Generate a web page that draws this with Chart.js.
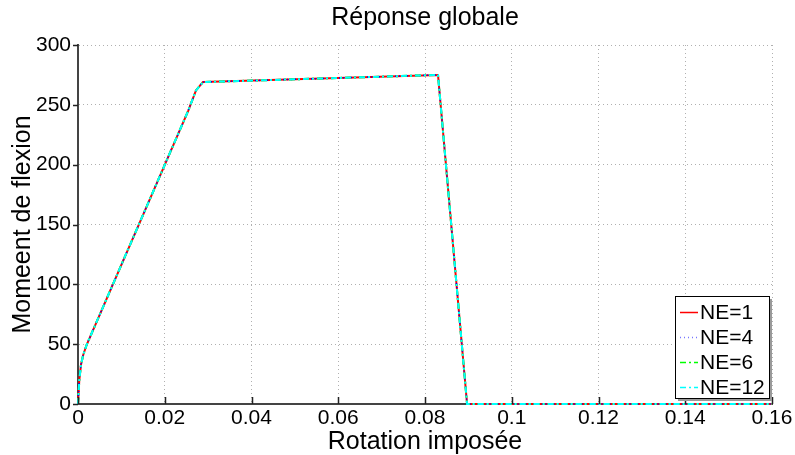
<!DOCTYPE html>
<html>
<head>
<meta charset="utf-8">
<script src="https://cdn.jsdelivr.net/npm/chart.js@4/dist/chart.umd.min.js"></script>
<style>
  html, body { margin: 0; padding: 0; background: #ffffff; }
  canvas { display: block; }
</style>
</head>
<body>
<canvas id="c" width="795" height="455"></canvas>
<script>
// ---- Data ----
const rotation   = [0, 0.0003, 0.0007, 0.0012, 0.002, 0.0254, 0.0272, 0.0288, 0.0830, 0.0897, 0.16];
const momentNE1  = [0, 20, 33, 41, 49.5, 245, 262, 269, 275, 0, 0];
const momentNE4  = [0, 20, 33, 41, 49.5, 245, 262, 269, 275, 0, 0];
const momentNE6  = [0, 20, 33, 41, 49.5, 245, 262, 269, 275, 0, 0];
const momentNE12 = [0, 20, 33, 41, 49.5, 245, 262, 269, 275, 0, 0];
const seriesLabels = ['NE=1', 'NE=4', 'NE=6', 'NE=12'];
const xTickLabels = ['0', '0.02', '0.04', '0.06', '0.08', '0.1', '0.12', '0.14', '0.16'];
const yTickLabels = ['0', '50', '100', '150', '200', '250', '300'];
const titleText = 'Réponse globale';
const xTitle = 'Rotation imposée';
const yTitle = 'Momeent de flexion';

const FONT = '"Liberation Sans", Arial, Helvetica, sans-serif';

function pts(ys) { return rotation.map((x, i) => ({ x: x, y: ys[i] })); }

const PLOT_LEFT = 78, PLOT_RIGHT = 772, PLOT_BOTTOM = 404, W = 795, H = 455;

// tick marks like the reference (x: inward, y: outward)
const tickMarks = {
  id: 'tickMarks',
  afterDatasetsDraw(chart) {
    const ctx = chart.ctx;
    const xs = chart.scales.x, ys = chart.scales.y;
    ctx.save();
    ctx.strokeStyle = '#222';
    ctx.lineWidth = 1.5;
    ctx.beginPath();
    xs.ticks.forEach(t => {
      const px = Math.round(xs.getPixelForValue(t.value)) + 0.5;
      ctx.moveTo(px, ys.bottom);
      ctx.lineTo(px, ys.bottom - 7);
    });
    ys.ticks.forEach(t => {
      const py = Math.round(ys.getPixelForValue(t.value)) + 0.5;
      ctx.moveTo(xs.left, py);
      ctx.lineTo(xs.left - 5, py);
    });
    ctx.stroke();
    ctx.restore();
  }
};

// boxed legend in lower right corner
const boxLegend = {
  id: 'boxLegend',
  afterDraw(chart) {
    const ctx = chart.ctx;
    const area = chart.chartArea;
    const bx = area.right - 97, by = area.bottom - 108, bw = 94, bh = 102;
    ctx.save();
    ctx.fillStyle = '#9a9a9a';
    ctx.fillRect(bx + 3, by + 3, bw, bh);
    ctx.fillStyle = '#ffffff';
    ctx.fillRect(bx, by, bw, bh);
    ctx.strokeStyle = '#000000';
    ctx.lineWidth = 1;
    ctx.strokeRect(bx + 0.5, by + 0.5, bw, bh);
    ctx.font = '21px ' + FONT;
    ctx.textBaseline = 'middle';
    ctx.textAlign = 'left';
    chart.data.datasets.forEach((ds, i) => {
      const y = by + 16 + i * 25;
      ctx.strokeStyle = ds.legendColor || ds.borderColor;
      ctx.lineWidth = 1.5;
      ctx.setLineDash(ds.borderDash || []);
      ctx.beginPath();
      ctx.moveTo(bx + 5, y + 0.5);
      ctx.lineTo(bx + 23, y + 0.5);
      ctx.stroke();
      ctx.setLineDash([]);
      ctx.fillStyle = '#000';
      ctx.fillText(ds.label, bx + 25, y + 1);
    });
    ctx.restore();
  }
};

new Chart(document.getElementById('c'), {
  type: 'line',
  data: {
    datasets: [
      { label: seriesLabels[0], data: pts(momentNE1), borderColor: '#ff0000', borderWidth: 2, borderDash: [], order: 4, clip: false },
      { label: seriesLabels[1], data: pts(momentNE4), borderColor: '#0000ff', legendColor: '#7777ff', borderWidth: 1.5, borderDash: [1, 3], order: 3, clip: false },
      { label: seriesLabels[2], data: pts(momentNE6), borderColor: '#00ff00', borderWidth: 2, borderDash: [6, 3, 2, 3], order: 2, clip: false },
      { label: seriesLabels[3], data: pts(momentNE12), borderColor: '#00ffff', borderWidth: 2, borderDash: [6, 3, 2, 3], order: 1, clip: false }
    ]
  },
  options: {
    responsive: false,
    animation: false,
    devicePixelRatio: 1,
    layout: { padding: { left: 0, right: W - PLOT_RIGHT, top: 0, bottom: 0 } },
    elements: { point: { radius: 0 }, line: { tension: 0, fill: false } },
    plugins: {
      legend: { display: false },
      tooltip: { enabled: false },
      title: {
        display: true,
        text: titleText,
        fullSize: false,
        color: '#000',
        font: { family: FONT, size: 25, weight: 'normal', lineHeight: 1.2 },
        padding: { top: 3, bottom: 12 }
      }
    },
    scales: {
      x: {
        type: 'linear',
        min: 0, max: 0.16,
        afterFit(s) { s.height = H - PLOT_BOTTOM; },
        ticks: {
          stepSize: 0.02,
          autoSkip: false,
          maxRotation: 0,
          padding: 2,
          color: '#000',
          font: { family: FONT, size: 21 },
          callback: (v, i) => xTickLabels[i] !== undefined ? xTickLabels[i] : v
        },
        grid: { color: '#b0b0b0', lineWidth: 1, drawTicks: false },
        border: { display: true, color: '#444', width: 2, dash: [1, 3] },
        title: {
          display: true, text: xTitle, color: '#000',
          font: { family: FONT, size: 25, lineHeight: 1.0 },
          padding: { top: 3, bottom: 0 }
        }
      },
      y: {
        type: 'linear',
        min: 0, max: 300,
        afterFit(s) { s.width = PLOT_LEFT; },
        ticks: {
          stepSize: 50,
          padding: 7,
          color: '#000',
          font: { family: FONT, size: 21 },
          callback: (v, i) => yTickLabels[i] !== undefined ? yTickLabels[i] : v
        },
        grid: { color: '#b0b0b0', lineWidth: 1, drawTicks: false },
        border: { display: true, color: '#444', width: 2, dash: [1, 3] },
        title: {
          display: true, text: yTitle, color: '#000',
          font: { family: FONT, size: 25, lineHeight: 1.2 },
          padding: { top: 8, bottom: 0 }
        }
      }
    }
  },
  plugins: [tickMarks, boxLegend]
});
</script>
</body>
</html>
